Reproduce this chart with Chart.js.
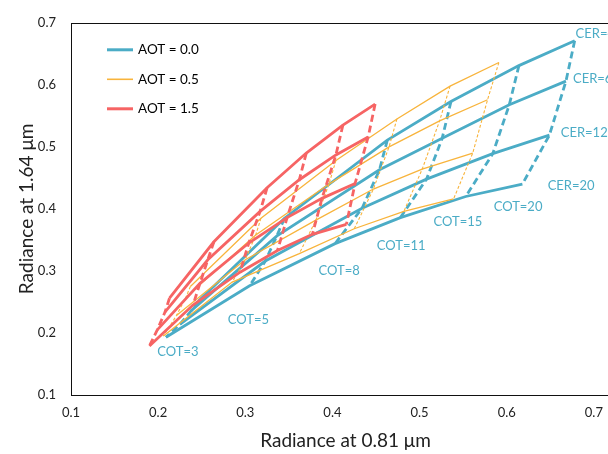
<!DOCTYPE html>
<html><head><meta charset="utf-8">
<script src="https://cdn.jsdelivr.net/npm/chart.js@4.4.0/dist/chart.umd.min.js"></script>
<style>html,body{margin:0;padding:0;overflow:hidden;background:#fff;width:608px;height:454px}canvas{display:block}</style>
</head><body><canvas id="c" width="660" height="454"></canvas>
<script>
// ---- data ----
const cotValues = [3, 5, 8, 11, 15, 20];
const cerValues = [4, 6, 12, 20];
const aotLabels = ['AOT = 0.0', 'AOT = 0.5', 'AOT = 1.5'];

// rows: CER 4, 6, 12, 20 ; columns: COT 3, 5, 8, 11, 15, 20
const aot00X = [
  [0.246, 0.345, 0.463, 0.536, 0.614, 0.678],
  [0.238, 0.336, 0.454, 0.526, 0.603, 0.668],
  [0.225, 0.323, 0.434, 0.508, 0.584, 0.649],
  [0.209, 0.305, 0.403, 0.478, 0.553, 0.618]
];
const aot00Y = [
  [0.251, 0.385, 0.511, 0.573, 0.631, 0.671],
  [0.236, 0.356, 0.463, 0.514, 0.568, 0.606],
  [0.214, 0.316, 0.401, 0.448, 0.489, 0.519],
  [0.193, 0.276, 0.344, 0.386, 0.420, 0.440]
];
const aot05X = [
  [0.237, 0.318, 0.404, 0.474, 0.535, 0.591],
  [0.232, 0.312, 0.396, 0.465, 0.523, 0.578],
  [0.221, 0.300, 0.381, 0.447, 0.503, 0.561],
  [0.206, 0.285, 0.362, 0.425, 0.482, 0.539]
];
const aot05Y = [
  [0.275, 0.385, 0.478, 0.545, 0.598, 0.636],
  [0.258, 0.358, 0.440, 0.500, 0.542, 0.576],
  [0.228, 0.318, 0.382, 0.432, 0.464, 0.490],
  [0.195, 0.282, 0.328, 0.368, 0.396, 0.416]
];
const aot15X = [
  [0.213, 0.264, 0.325, 0.370, 0.412, 0.449],
  [0.208, 0.257, 0.317, 0.362, 0.404, 0.441],
  [0.199, 0.248, 0.304, 0.348, 0.388, 0.426],
  [0.190, 0.240, 0.294, 0.337, 0.377, 0.416]
];
const aot15Y = [
  [0.256, 0.347, 0.434, 0.490, 0.535, 0.569],
  [0.234, 0.318, 0.396, 0.447, 0.487, 0.516],
  [0.205, 0.280, 0.345, 0.386, 0.417, 0.441],
  [0.179, 0.245, 0.298, 0.333, 0.359, 0.375]
];

const xTickValues = [0.1, 0.2, 0.3, 0.4, 0.5, 0.6, 0.7];
const yTickValues = [0.1, 0.2, 0.3, 0.4, 0.5, 0.6, 0.7];

const annotText = ['CER=4', 'CER=6', 'CER=12', 'CER=20', 'COT=20', 'COT=15', 'COT=11', 'COT=8', 'COT=5', 'COT=3'];
const annotX = [0.679, 0.676, 0.662, 0.647, 0.585, 0.516, 0.451, 0.384, 0.280, 0.199];
const annotY = [0.682, 0.610, 0.522, 0.437, 0.403, 0.379, 0.341, 0.300, 0.221, 0.170];

// ---- styles ----
const TEAL = '#4BACC6', ORANGE = '#F8B43C', RED = '#F66464';
const FONT = 'Lato, "Open Sans", sans-serif';
const groups = [
  { X: aot15X, Y: aot15Y, color: RED, width: 2.8, dash: [7, 4], dwidth: 2.8 },
  { X: aot05X, Y: aot05Y, color: ORANGE, width: 1.3, dash: [3, 2], dwidth: 1.1 },
  { X: aot00X, Y: aot00Y, color: TEAL, width: 2.8, dash: [7, 4], dwidth: 2.8 }
];
const legendColors = [TEAL, ORANGE, RED];
const legendWidths = [3, 1.6, 3];

const datasets = [];
groups.forEach(g => {
  cerValues.forEach((cer, r) => {
    datasets.push({
      data: cotValues.map((cot, c) => ({ x: g.X[r][c], y: g.Y[r][c] })),
      borderColor: g.color, borderWidth: g.width, showLine: true,
      pointRadius: 0, tension: 0, fill: false
    });
  });
  cotValues.forEach((cot, c) => {
    datasets.push({
      data: cerValues.map((cer, r) => ({ x: g.X[r][c], y: g.Y[r][c] })),
      borderColor: g.color, borderWidth: g.dwidth, borderDash: g.dash, showLine: true,
      pointRadius: 0, tension: 0, fill: false
    });
  });
});

const framePlugin = {
  id: 'frame',
  beforeDatasetsDraw(chart) {
    const a = chart.chartArea, ctx = chart.ctx;
    ctx.save();
    ctx.strokeStyle = '#111'; ctx.lineWidth = 1;
    ctx.strokeRect(Math.round(a.left) + 0.5, Math.round(a.top) + 0.5, a.right - a.left, Math.round(a.bottom - a.top));
    ctx.restore();
  },
  afterDraw(chart) {
    const ctx = chart.ctx, xs = chart.scales.x, ys = chart.scales.y, a = chart.chartArea;
    ctx.save();
    ctx.font = '13px ' + FONT; ctx.fillStyle = TEAL;
    ctx.textAlign = 'left'; ctx.textBaseline = 'middle';
    annotText.forEach((t, i) => {
      ctx.fillText(t, xs.getPixelForValue(annotX[i]), ys.getPixelForValue(annotY[i]));
    });
    ctx.font = '13.5px ' + FONT; ctx.fillStyle = '#000';
    aotLabels.forEach((t, i) => {
      const y = a.top + 27 + i * 29.5;
      ctx.strokeStyle = legendColors[i]; ctx.lineWidth = legendWidths[i];
      ctx.beginPath(); ctx.moveTo(a.left + 36, y); ctx.lineTo(a.left + 62, y); ctx.stroke();
      ctx.fillText(t, a.left + 67, y);
    });
    ctx.restore();
  }
};

new Chart(document.getElementById('c'), {
  type: 'scatter',
  data: { datasets },
  options: {
    responsive: false, animation: false,
    layout: { padding: { top: 17, right: 40, left: 0, bottom: 0 } },
    plugins: { legend: { display: false }, tooltip: { enabled: false } },
    scales: {
      x: {
        type: 'linear', min: 0.1, max: 0.73,
        afterBuildTicks: s => { s.ticks = xTickValues.map(v => ({ value: v })); },
        afterFit: s => { s.height = 59; },
        grid: { display: false, drawTicks: false },
        border: { display: false },
        ticks: { padding: 10, color: '#222', font: { family: FONT, size: 13 }, callback: v => v.toFixed(1) },
        title: { display: true, text: 'Radiance at 0.81 μm', color: '#222', font: { family: FONT, size: 19 }, padding: { top: 0, bottom: 2 } }
      },
      y: {
        type: 'linear', min: 0.1, max: 0.7,
        afterBuildTicks: s => { s.ticks = yTickValues.map(v => ({ value: v })); },
        afterFit: s => { s.width = 71; },
        grid: { display: false, drawTicks: false },
        border: { display: false },
        ticks: { padding: 15, color: '#222', font: { family: FONT, size: 13 }, callback: v => v.toFixed(1) },
        title: { display: true, text: 'Radiance at 1.64 μm', color: '#222', font: { family: FONT, size: 19 }, padding: { top: 15, bottom: 0 } }
      }
    }
  },
  plugins: [framePlugin]
});
</script>
</body></html>
